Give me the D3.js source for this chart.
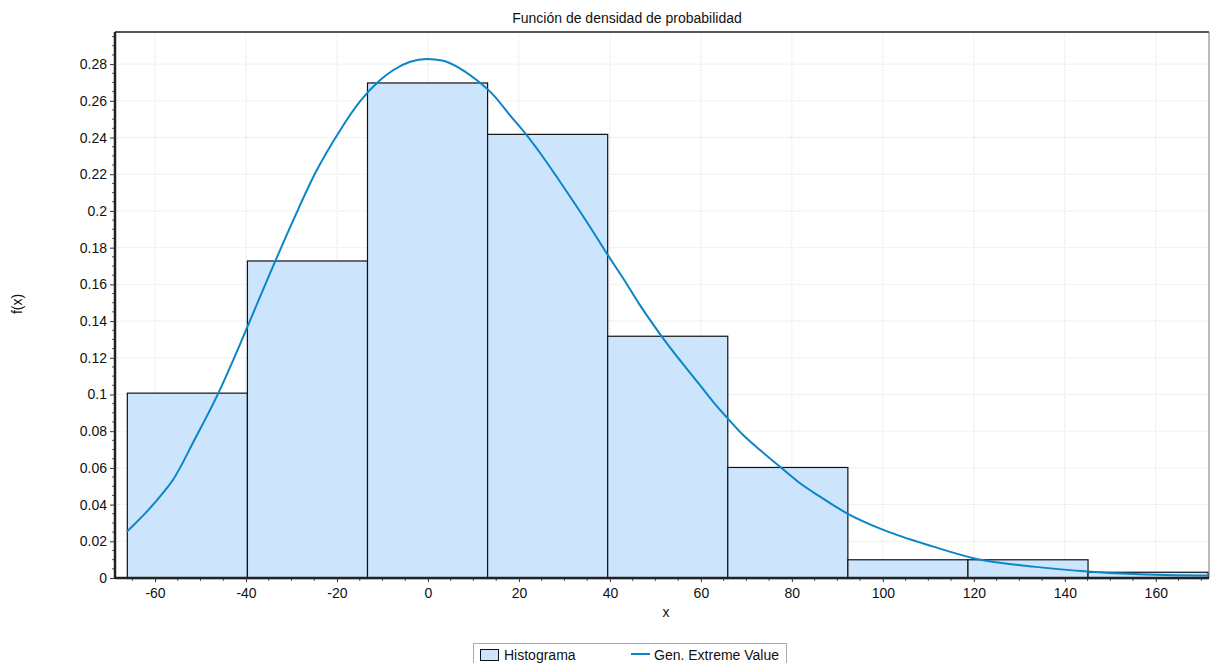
<!DOCTYPE html>
<html>
<head>
<meta charset="utf-8">
<script src="https://cdn.jsdelivr.net/npm/d3@7"></script>
<style>
  html, body { margin: 0; padding: 0; background: #fff; }
  svg { display: block; font-family: "Liberation Sans", Arial, sans-serif; }
</style>
</head>
<body>
<svg id="chart" width="1210" height="663"></svg>
<script>
// ---------- data ----------
const binEdges   = [-66.2, -39.8, -13.4, 13.0, 39.4, 65.8, 92.2, 118.6, 145.0, 171.4];
const binHeights = [0.101, 0.173, 0.270, 0.242, 0.132, 0.0605, 0.0102, 0.0102, 0.0034];

const curveX = [-66.2, -61.3, -58.2, -56.0, -51.6, -46.1, -40.9, -36.9, -29.6, -24.8, -19.3, -14.9,
                -10.5, -7.6, -3.9, -0.3, 3.4, 7.0, 10.7, 14.4, 18.0, 21.7, 25.4, 28.3, 32.0, 35.6,
                39.3, 42.9, 46.6, 51.7, 59.8, 62.7, 65.7, 69.3, 73.0, 77.4, 81.8, 86.2, 92.0,
                100.1, 111.1, 120.6, 133.1, 145.0, 155.1, 171.4];
const curveY = [0.0252, 0.0375, 0.0465, 0.0537, 0.0740, 0.1006, 0.1297, 0.1533, 0.1950, 0.2205, 0.2440, 0.2598,
                0.2713, 0.2768, 0.2813, 0.2828, 0.2818, 0.2777, 0.2713, 0.2631, 0.2522, 0.2413, 0.2290, 0.2186, 0.2050, 0.1914,
                0.1769, 0.1633, 0.1487, 0.1306, 0.1051, 0.0960, 0.0875, 0.0779, 0.0697, 0.0606, 0.0516, 0.0443, 0.0354,
                0.0262, 0.0171, 0.0104, 0.0062, 0.0036, 0.0022, 0.0013];

const xTicks = [-60, -40, -20, 0, 20, 40, 60, 80, 100, 120, 140, 160];
const yTicks = [0, 0.02, 0.04, 0.06, 0.08, 0.1, 0.12, 0.14, 0.16, 0.18, 0.2, 0.22, 0.24, 0.26, 0.28];

const titleText = "Función de densidad de probabilidad";
const xLabel = "x";
const yLabel = "f(x)";
const legendLabels = ["Histograma", "Gen. Extreme Value"];

// ---------- layout ----------
const L = 115, R = 1209, T = 32, B = 578;
const barFill = "#cce5fc";
const lineColor = "#0a86c8";
const FS = "14px";

const svg = d3.select("#chart");
const x = d3.scaleLinear().domain([-68.8, 171.7]).range([L, R]);
const y = d3.scaleLinear().domain([0, 0.2975]).range([B, T]);

// grid
const grid = svg.append("g");
grid.selectAll("line.gx").data(xTicks).join("line")
  .attr("x1", d => x(d)).attr("x2", d => x(d)).attr("y1", T).attr("y2", B)
  .attr("stroke", "#e2e2e2").attr("stroke-width", 1).attr("stroke-dasharray", "1,1");
grid.selectAll("line.gy").data(yTicks.filter(d => d > 0)).join("line")
  .attr("x1", L).attr("x2", R).attr("y1", d => y(d)).attr("y2", d => y(d))
  .attr("stroke", "#e2e2e2").attr("stroke-width", 1).attr("stroke-dasharray", "1,1");

// bars
const bins = binHeights.map((h, i) => ({ x0: binEdges[i], x1: binEdges[i + 1], h }));
svg.append("g").selectAll("rect").data(bins).join("rect")
  .attr("x", d => x(d.x0) + 0.5)
  .attr("y", d => y(d.h) + 0.5)
  .attr("width", d => x(d.x1) - x(d.x0))
  .attr("height", d => y(0) - y(d.h))
  .attr("fill", barFill)
  .attr("stroke", "#111")
  .attr("stroke-width", 1.2);

// curve
const pts = curveX.map((v, i) => [v, curveY[i]]);
svg.append("path")
  .datum(pts)
  .attr("fill", "none")
  .attr("stroke", lineColor)
  .attr("stroke-width", 2)
  .attr("d", d3.line().x(d => x(d[0])).y(d => y(d[1])).curve(d3.curveMonotoneX));

// frame: top and right
svg.append("line").attr("x1", L).attr("x2", R).attr("y1", T).attr("y2", T)
  .attr("stroke", "#555").attr("stroke-width", 2);
svg.append("line").attr("x1", R).attr("x2", R).attr("y1", T).attr("y2", B)
  .attr("stroke", "#777").attr("stroke-width", 1);

// axes
const xAxis = d3.axisBottom(x).tickValues(xTicks).tickFormat(d => String(d)).tickSize(4).tickPadding(6);
const yAxis = d3.axisLeft(y).tickValues(yTicks).tickFormat(d => d === 0 ? "0" : String(+d.toFixed(2))).tickSize(5).tickPadding(3);

const xMinor = d3.range(-65, 171, 5).filter(v => xTicks.indexOf(v) < 0);
const yMinor = d3.range(0.005, 0.2975, 0.005).map(v => +v.toFixed(3)).filter(v => Math.abs(v / 0.02 - Math.round(v / 0.02)) > 0.01);

svg.append("g").selectAll("line").data(xMinor).join("line")
  .attr("x1", d => x(d)).attr("x2", d => x(d)).attr("y1", B).attr("y2", B + 3)
  .attr("stroke", "#555").attr("stroke-width", 1);
svg.append("g").selectAll("line").data(yMinor).join("line")
  .attr("x1", L - 3).attr("x2", L).attr("y1", d => y(d)).attr("y2", d => y(d))
  .attr("stroke", "#555").attr("stroke-width", 1);

const gx = svg.append("g").attr("transform", `translate(0,${B})`).call(xAxis);
const gy = svg.append("g").attr("transform", `translate(${L},0)`).call(yAxis);
[gx, gy].forEach(g => {
  g.select(".domain").attr("stroke", "#222").attr("stroke-width", 2.5);
  g.selectAll(".tick line").attr("stroke", "#333");
  g.selectAll(".tick text").attr("fill", "#111").style("font-size", FS)
    .style("font-family", "'Liberation Sans', Arial, sans-serif");
});
gx.select(".domain").attr("d", `M${L},0H${R}`);
gy.select(".domain").attr("d", `M0,${B}V${T}`);

// titles
svg.append("text").attr("x", 627).attr("y", 23).attr("text-anchor", "middle")
  .style("font-size", FS).attr("fill", "#111").text(titleText);
svg.append("text").attr("x", 666).attr("y", 617).attr("text-anchor", "middle")
  .style("font-size", FS).attr("fill", "#111").text(xLabel);
svg.append("text").attr("transform", "translate(22,304) rotate(-90)").attr("text-anchor", "middle")
  .style("font-size", FS).attr("fill", "#111").text(yLabel);

// legend
const lg = svg.append("g");
lg.append("rect").attr("x", 473.5).attr("y", 643.5).attr("width", 313).attr("height", 30)
  .attr("fill", "#fff").attr("stroke", "#aaa").attr("stroke-width", 1);
lg.append("rect").attr("x", 480.5).attr("y", 649.5).attr("width", 18).attr("height", 11)
  .attr("fill", barFill).attr("stroke", "#111").attr("stroke-width", 1);
lg.append("text").attr("x", 504).attr("y", 660).style("font-size", FS).attr("fill", "#111").text(legendLabels[0]);
lg.append("line").attr("x1", 631).attr("x2", 650).attr("y1", 654).attr("y2", 654)
  .attr("stroke", lineColor).attr("stroke-width", 2);
lg.append("text").attr("x", 654).attr("y", 660).style("font-size", FS).attr("fill", "#111").text(legendLabels[1]);
</script>
</body>
</html>
